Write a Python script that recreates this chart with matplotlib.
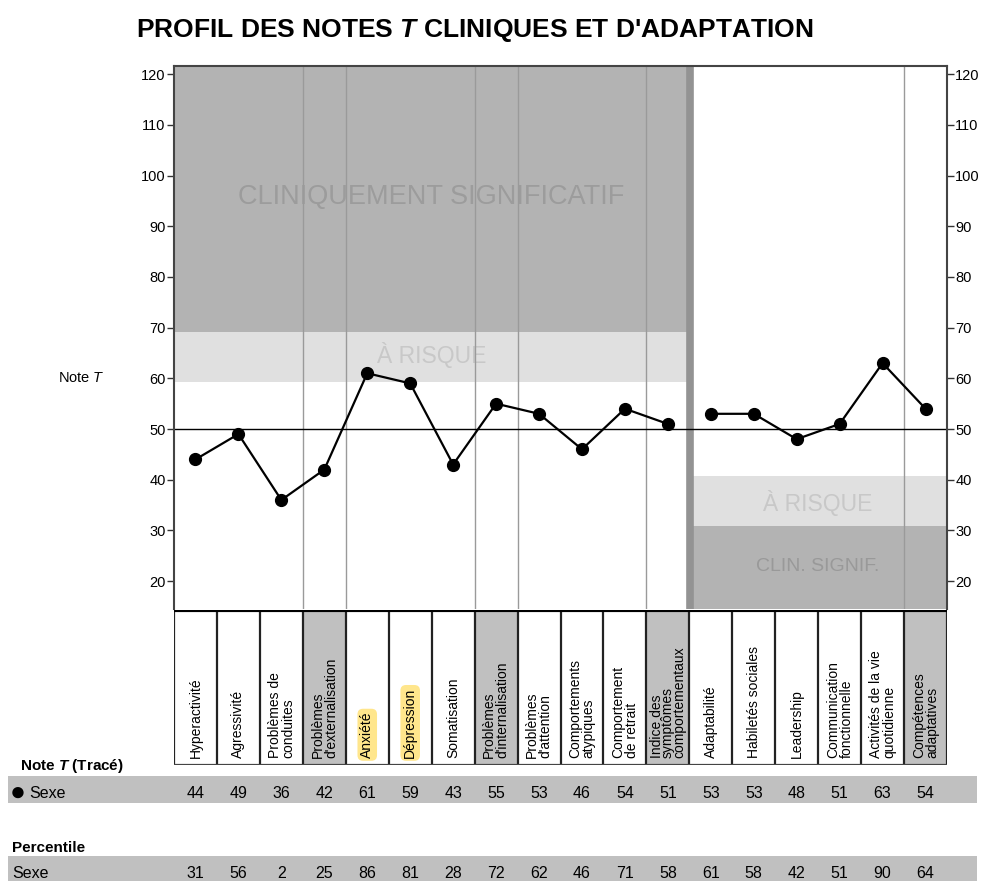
import matplotlib
matplotlib.use("Agg")
import matplotlib.pyplot as plt
from matplotlib.patches import Rectangle
from matplotlib.transforms import blended_transform_factory
import numpy as np

plt.rcParams['font.family'] = ['Liberation Sans', 'DejaVu Sans']
plt.rcParams['mathtext.fontset'] = 'custom'
plt.rcParams['mathtext.rm'] = 'Liberation Sans'
plt.rcParams['mathtext.it'] = 'Liberation Sans:italic'
plt.rcParams['mathtext.bf'] = 'Liberation Sans:bold'
plt.rcParams['mathtext.bfit'] = 'Liberation Sans:bold:italic'

# ---- data ----
labels = [
    "Hyperactivité", "Agressivité", "Problèmes de\nconduites",
    "Problèmes\nd'externalisation", "Anxiété", "Dépression", "Somatisation",
    "Problèmes\nd'internalisation", "Problèmes\nd'attention",
    "Comportements\natypiques", "Comportement\nde retrait",
    "Indice des\nsymptômes\ncomportementaux",
    "Adaptabilité", "Habiletés sociales", "Leadership",
    "Communication\nfonctionnelle", "Activités de la vie\nquotidienne",
    "Compétences\nadaptatives",
]
t_scores = [44, 49, 36, 42, 61, 59, 43, 55, 53, 46, 54, 51, 53, 53, 48, 51, 63, 54]
percentiles = [31, 56, 2, 25, 86, 81, 28, 72, 62, 46, 71, 58, 61, 58, 42, 51, 90, 64]
composite_cols = [3, 7, 11, 17]
highlight_cols = [4, 5]
n_clin = 12          # clinical scales on the left, adaptive on the right
yticks = list(range(20, 121, 10))

n = len(labels)
W, H = 984, 881
fig = plt.figure(figsize=(W / 100, H / 100), dpi=100)


def fx(px):
    return px / W


def fy(py):
    return 1 - py / H


# ---- main profile axes ----
ax = fig.add_axes([fx(174), fy(609), fx(947 - 174), (609 - 66) / H])
ax.set_xlim(0, n)
ax.set_ylim(14.5, 121.6)

dark = '#b3b3b3'
light = '#e0e0e0'
# left (clinical) zones
ax.axhspan(69.2, 130, xmin=0, xmax=n_clin / n, color=dark, lw=0, zorder=0)
ax.axhspan(59.2, 69.2, xmin=0, xmax=n_clin / n, color=light, lw=0, zorder=0)
# right (adaptive) zones
ax.axhspan(30.8, 40.8, xmin=n_clin / n, xmax=1, color=light, lw=0, zorder=0)
ax.axhspan(0, 30.8, xmin=n_clin / n, xmax=1, color=dark, lw=0, zorder=0)

ax.text(n_clin / 2, 95.7, "CLINIQUEMENT SIGNIFICATIF", ha='center', va='center',
        fontsize=19.5, color='#9c9c9c', zorder=1)
ax.text(n_clin / 2, 64.6, "À RISQUE", ha='center', va='center',
        fontsize=16.5, color='#c8c8c8', zorder=1)
ax.text((n_clin + n) / 2, 35.5, "À RISQUE", ha='center', va='center',
        fontsize=16.5, color='#c8c8c8', zorder=1)
ax.text((n_clin + n) / 2, 22.8, "CLIN. SIGNIF.", ha='center', va='center',
        fontsize=14, color='#999999', zorder=1)

for c in composite_cols:
    for xb in (c, c + 1):
        if xb not in (n_clin, n):
            ax.axvline(xb, color='#9a9a9a', lw=1, zorder=1)
ax.axvline(n_clin + 0.02, color='#939393', lw=5.5, zorder=2)
ax.axhline(50, color='black', lw=1, zorder=2)

xs = np.arange(n) + 0.5
ax.plot(xs[:n_clin], t_scores[:n_clin], color='black', lw=1.6, marker='o',
        ms=8.5, zorder=4)
ax.plot(xs[n_clin:], t_scores[n_clin:], color='black', lw=1.6, marker='o',
        ms=8.5, zorder=4)

ax.set_xticks([])
ax.set_yticks(yticks)
ax.tick_params(axis='y', which='both', left=True, right=True, labelleft=True,
               labelright=True, direction='out', length=5, width=1,
               color='#333333', labelsize=10.5, pad=1)
for s in ['left', 'right', 'top']:
    ax.spines[s].set_color('#444444')
    ax.spines[s].set_linewidth(1.5)
ax.spines['bottom'].set_visible(False)

fig.text(fx(58), fy(378), "Note $\\it{T}$", ha='left', va='center', fontsize=10.5)

# ---- header with scale names ----
hax = fig.add_axes([fx(174), fy(765), fx(947 - 174), 155 / H])
hax.set_xlim(0, n)
hax.set_ylim(0, 1)
hax.axis('off')
for c in composite_cols:
    hax.add_patch(Rectangle((c, 0), 1, 1, facecolor='#c0c0c0', edgecolor='none'))
for xb in range(n + 1):
    hax.axvline(xb, color='#222222', lw=1.6)
hax.axhline(0, color='#444444', lw=1.6)
hax.axhline(1, color='black', lw=3)
for i, lab in enumerate(labels):
    kw = dict(rotation=90, rotation_mode='anchor', ha='left', va='center',
              fontsize=10, multialignment='left', linespacing=0.95)
    if i == 11:
        kw['linespacing'] = 0.75
    if i in highlight_cols:
        kw['bbox'] = dict(boxstyle='round,pad=0.2,rounding_size=0.4',
                          facecolor='#ffe68c', edgecolor='none')
    hax.text(i + 0.5, 0.045, lab, **kw)

# ---- score rows ----
trans = blended_transform_factory(ax.transData, fig.transFigure)
fig.add_artist(Rectangle((fx(8), fy(803)), fx(977 - 8), 27 / H,
                         transform=fig.transFigure, facecolor='#c0c0c0',
                         edgecolor='none'))
fig.add_artist(Rectangle((fx(8), fy(881)), fx(977 - 8), 25 / H,
                         transform=fig.transFigure, facecolor='#c0c0c0',
                         edgecolor='none'))
fig.text(fx(20), fy(766), "Note $\\mathbfit{T}$ (Tracé)", fontweight='bold',
         fontsize=11, va='center', ha='left')
fig.text(fx(10), fy(793), "●", fontsize=19, va='center', ha='left')
fig.text(fx(29), fy(793), "Sexe", fontsize=11.5, va='center', ha='left')
fig.text(fx(12), fy(848), "Percentile", fontweight='bold', fontsize=11,
         va='center', ha='left')
fig.text(fx(12), fy(873), "Sexe", fontsize=11.5, va='center', ha='left')
for i in range(n):
    fig.text(xs[i], fy(793), str(t_scores[i]), transform=trans, ha='center',
             va='center', fontsize=11.5)
    fig.text(xs[i], fy(873), str(percentiles[i]), transform=trans, ha='center',
             va='center', fontsize=11.5)

# ---- title ----
fig.text(fx(475), fy(30), "PROFIL DES NOTES $\\mathbfit{T}$ CLINIQUES ET D'ADAPTATION",
         ha='center', va='center', fontsize=19, fontweight='bold')

fig.savefig('out.png', dpi=100)
